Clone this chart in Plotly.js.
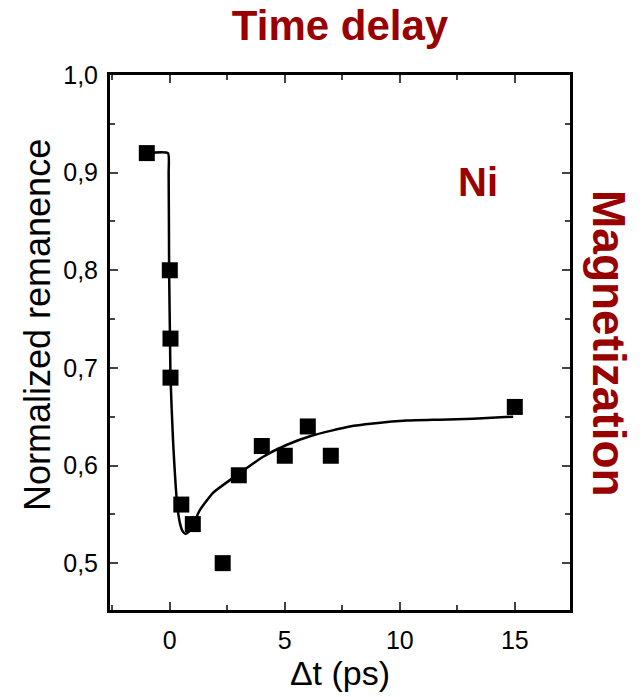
<!DOCTYPE html>
<html>
<head>
<meta charset="utf-8">
<script src="https://cdn.plot.ly/plotly-3.0.1.min.js"></script>
<style>html,body{margin:0;padding:0;background:#fff;}#chart{width:643px;height:697px;}</style>
</head>
<body>
<div id="chart"></div>
<script>
// Measured data points (Δt in ps, normalized remanence)
const dataX = [-1, 0, 0.03, 0.03, 0.5, 1, 2.3, 3, 4, 5, 6, 7, 15];
const dataY = [0.92, 0.80, 0.73, 0.69, 0.56, 0.54, 0.50, 0.59, 0.62, 0.61, 0.64, 0.61, 0.66];

// Fit curve
const fitX = [-1.0, -0.08, -0.05, -0.03, 0.01, 0.03, 0.14, 0.33, 0.45, 0.55, 0.68, 0.82, 1.0, 1.30, 1.88, 2.97, 4.06, 5.07, 6.23, 7.83, 8.84, 10.29, 11.74, 13.19, 14.93];
const fitY = [0.92, 0.92, 0.90, 0.80, 0.728, 0.691, 0.626, 0.558, 0.540, 0.533, 0.530, 0.532, 0.539, 0.554, 0.572, 0.591, 0.609, 0.621, 0.631, 0.640, 0.643, 0.646, 0.647, 0.648, 0.650];

const yTicks = [0.5, 0.6, 0.7, 0.8, 0.9, 1.0];
const xTicks = [0, 5, 10, 15];

const red = '#990000';
const font = 'Liberation Sans, Arial, Helvetica, sans-serif';

const traces = [
  {x: fitX, y: fitY, type: 'scatter', mode: 'lines',
   line: {color: '#000', width: 2.5, shape: 'spline', smoothing: 0.5}, hoverinfo: 'skip'},
  {x: dataX, y: dataY, type: 'scatter', mode: 'markers',
   marker: {symbol: 'square', size: 16, color: '#000'}}
];

const layout = {
  width: 643, height: 697,
  margin: {l: 110, r: 73, t: 75, b: 87},
  paper_bgcolor: '#fff', plot_bgcolor: '#fff',
  showlegend: false,
  separators: ',.',
  font: {family: font, color: '#000', size: 25},
  title: {text: '<b>Time delay</b>', x: 340/643, xanchor: 'center',
          y: 1 - 25/697, yanchor: 'middle',
          font: {family: font, size: 42, color: red}},
  xaxis: {
    range: [-2.6, 17.4], tickvals: xTicks, ticks: 'inside', ticklen: 8, tickwidth: 2,
    minor: {dtick: 2.5, tick0: 0, ticks: 'inside', ticklen: 5, tickwidth: 2},
    showline: true, linewidth: 3, linecolor: '#000', mirror: 'ticks',
    showgrid: false, zeroline: false,
    tickfont: {size: 25}, ticklabelstandoff: 6,
    title: {text: 'Δt (ps)', font: {size: 34}, standoff: 6}
  },
  yaxis: {
    range: [0.452, 1.0], tickvals: yTicks, tickformat: '.1f', ticks: 'inside', ticklen: 8, tickwidth: 2,
    minor: {dtick: 0.05, tick0: 0, ticks: 'inside', ticklen: 5, tickwidth: 2},
    showline: true, linewidth: 3, linecolor: '#000', mirror: 'ticks',
    showgrid: false, zeroline: false,
    tickfont: {size: 25}, ticklabelstandoff: 4
  },
  annotations: [
    {text: 'Normalized remanence', xref: 'paper', yref: 'paper', x: (37-110)/460, y: (610-325)/535,
     xanchor: 'center', yanchor: 'middle', showarrow: false, textangle: -90,
     font: {family: font, size: 36, color: '#000'}},
    {text: '<b>Ni</b>', xref: 'paper', yref: 'paper', x: (478-110)/460, y: (610-182)/535,
     xanchor: 'center', yanchor: 'middle', showarrow: false,
     font: {family: font, size: 40, color: red}},
    {text: '<b>Magnetization</b>', xref: 'paper', yref: 'paper', x: (609-110)/460, y: (610-343)/535,
     xanchor: 'center', yanchor: 'middle', showarrow: false, textangle: 90,
     font: {family: font, size: 46, color: red}}
  ]
};

Plotly.newPlot('chart', traces, layout, {displayModeBar: false, staticPlot: true});
</script>
</body>
</html>
